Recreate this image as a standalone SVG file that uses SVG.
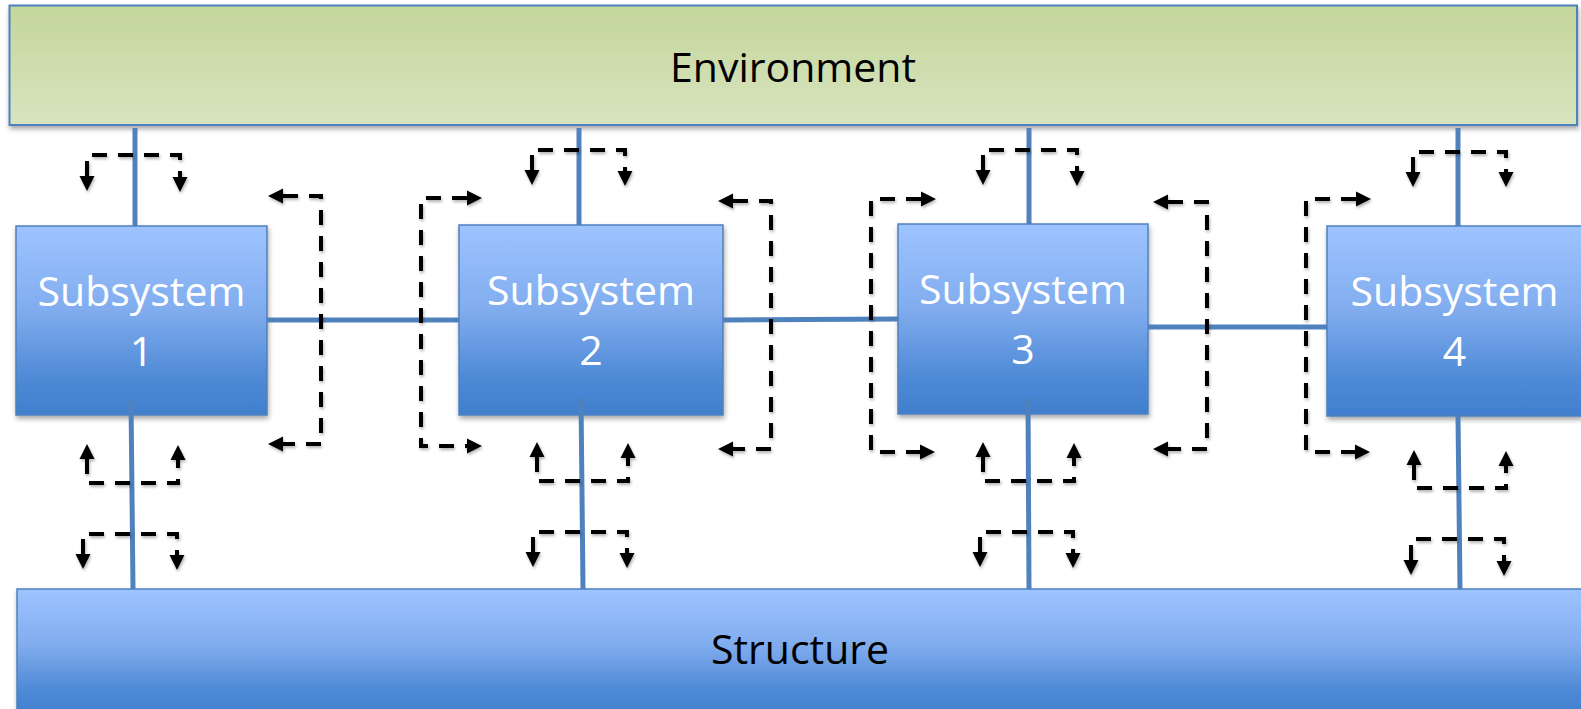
<svg xmlns="http://www.w3.org/2000/svg" width="1581" height="709" viewBox="0 0 1581 709">
  <defs>
    <linearGradient id="gEnv" x1="0" y1="0" x2="0" y2="1">
      <stop offset="0" stop-color="#C3D69B"/>
      <stop offset="1" stop-color="#D8E4BF"/>
    </linearGradient>
    <linearGradient id="gBlue" x1="0" y1="0" x2="0" y2="1">
      <stop offset="0" stop-color="#9EC4FF"/>
      <stop offset="0.45" stop-color="#80ACEE"/>
      <stop offset="0.8" stop-color="#4F8AD6"/>
      <stop offset="1" stop-color="#407FCD"/>
    </linearGradient>
    <filter id="shadow" x="-5%" y="-10%" width="110%" height="130%">
      <feDropShadow dx="1" dy="3" stdDeviation="2.5" flood-color="#000" flood-opacity="0.35"/>
    </filter>
    <filter id="lshadow" filterUnits="userSpaceOnUse" x="0" y="0" width="1581" height="709">
      <feDropShadow dx="1" dy="2" stdDeviation="1.5" flood-color="#000" flood-opacity="0.3"/>
    </filter>
    <marker id="ah" markerUnits="userSpaceOnUse" markerWidth="15" markerHeight="15" refX="0" refY="7.5" orient="auto-start-reverse" overflow="visible">
      <path d="M0,0 L15,7.5 L0,15 z" fill="#000"/>
    </marker>
  </defs>
  <style>
    .box { stroke: #4F81BD; stroke-width: 1.5; filter: url(#shadow); }
    .env { fill: url(#gEnv); stroke-width: 2; }
    .blue { fill: url(#gBlue); }
    .lbl { font-family: "Open Sans", "Liberation Sans", sans-serif; font-size: 41px; text-anchor: middle; }
    .dark { fill: #000; }
    .light { fill: #FFFFFF; }
    .link { stroke: #4F81BD; stroke-width: 5; fill: none; }
    .flow { stroke: #000; stroke-width: 4; fill: none; stroke-dasharray: 15 11; marker-start: url(#ah); marker-end: url(#ah); }
  </style>

  <g id="environment">
    <rect class="box env" x="9.5" y="5.5" width="1567.5" height="119.5"/>
    <text class="lbl dark" x="793" y="82">Environment</text>
  </g>
  <g id="structure">
    <rect class="box blue" x="17" y="589" width="1570" height="125"/>
    <text class="lbl dark" x="800" y="664">Structure</text>
  </g>
  <g id="subsystem1">
    <rect class="box blue" x="16" y="226" width="251" height="189"/>
    <text class="lbl light" x="141.5" y="306">Subsystem</text>
    <text class="lbl light" x="141.5" y="366">1</text>
  </g>
  <g id="subsystem2">
    <rect class="box blue" x="459" y="225" width="264" height="190"/>
    <text class="lbl light" x="591" y="305">Subsystem</text>
    <text class="lbl light" x="591" y="365">2</text>
  </g>
  <g id="subsystem3">
    <rect class="box blue" x="898" y="224" width="250" height="190"/>
    <text class="lbl light" x="1023" y="304">Subsystem</text>
    <text class="lbl light" x="1023" y="364">3</text>
  </g>
  <g id="subsystem4">
    <rect class="box blue" x="1327" y="226" width="255" height="190"/>
    <text class="lbl light" x="1454.5" y="306">Subsystem</text>
    <text class="lbl light" x="1454.5" y="366">4</text>
  </g>

  <g id="connectors">
    <!-- solid interface lines -->
    <line class="link" x1="135" y1="128" x2="135" y2="226"/>
    <line class="link" x1="579" y1="128" x2="579" y2="225"/>
    <line class="link" x1="1029" y1="128" x2="1029" y2="224"/>
    <line class="link" x1="1458" y1="128" x2="1458" y2="226"/>
    <line class="link" x1="131" y1="400" x2="133" y2="589"/>
    <line class="link" x1="581" y1="398" x2="583" y2="589"/>
    <line class="link" x1="1028" y1="398" x2="1029" y2="589"/>
    <line class="link" x1="1458" y1="416" x2="1460" y2="589"/>
    <line class="link" x1="267" y1="320" x2="459" y2="320"/>
    <line class="link" x1="723" y1="320" x2="898" y2="319"/>
    <line class="link" x1="1148" y1="327" x2="1327" y2="327"/>

    <g id="flows" filter="url(#lshadow)">
      <!-- dashed flows: environment side -->
      <path class="flow" d="M87,176 V155 H180 V177"/>
      <path class="flow" d="M532,170 V150 H625 V171"/>
      <path class="flow" d="M983,170 V150 H1077 V171"/>
      <path class="flow" d="M1413,172 V152 H1506 V172"/>

      <!-- dashed flows: below subsystems -->
      <path class="flow" d="M87,459 V483 H178 V460"/>
      <path class="flow" d="M537,457 V481 H628 V458"/>
      <path class="flow" d="M983,457 V481 H1074 V458"/>
      <path class="flow" d="M1414,465 V488 H1506 V466"/>

      <!-- dashed flows: structure side -->
      <path class="flow" d="M83,554 V534 H177 V555"/>
      <path class="flow" d="M533,552 V532 H627 V553"/>
      <path class="flow" d="M980,552 V532 H1073 V553"/>
      <path class="flow" d="M1411,560 V539 H1504 V561"/>

      <!-- dashed flows: between subsystems -->
      <path class="flow" d="M283,196 H321 V444 H283"/>
      <path class="flow" d="M467,198 H421 V446 H467"/>
      <path class="flow" d="M733,201 H771 V449 H733"/>
      <path class="flow" d="M921,199 H871 V452 H920"/>
      <path class="flow" d="M1168,202 H1207 V449 H1168"/>
      <path class="flow" d="M1356,199 H1306 V452 H1355"/>
    </g>
  </g>
</svg>
